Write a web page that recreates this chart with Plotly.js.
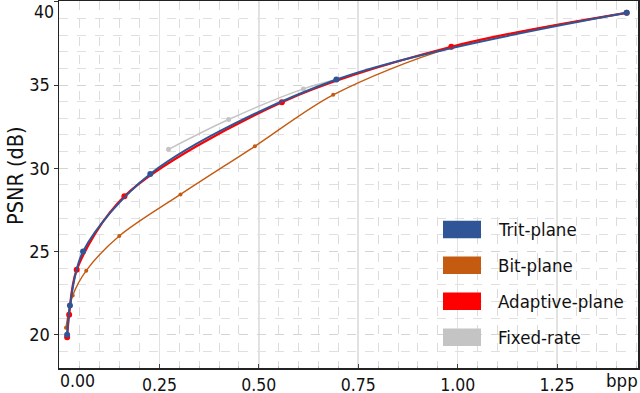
<!DOCTYPE html>
<html>
<head>
<meta charset="utf-8">
<script src="https://cdn.plot.ly/plotly-3.0.1.min.js"></script>
<style>html,body{margin:0;padding:0;background:#fff;}#chart{width:640px;height:393px;}</style>
</head>
<body>
<div id="chart"></div>
<script>
// ---- data ----
const seriesNames = ["Trit-plane", "Bit-plane", "Adaptive-plane", "Fixed-rate"];

const tritBpp  = [0.018, 0.025, 0.058, 0.227, 0.695, 1.425];
const tritPsnr = [20.0, 21.75, 25.0, 29.66, 35.33, 39.34];

const bitBpp  = [0.015, 0.032, 0.066, 0.149, 0.303, 0.49, 0.687, 0.984, 1.425];
const bitPsnr = [20.42, 22.35, 23.85, 25.93, 28.43, 31.32, 34.41, 37.25, 39.34];

const adaptBpp  = [0.018, 0.023, 0.042, 0.162, 0.558, 0.984, 1.425];
const adaptPsnr = [19.85, 21.2, 23.9, 28.32, 33.97, 37.3, 39.34];

const fixedBpp  = [0.273, 0.424, 0.612, 0.695];
const fixedPsnr = [31.14, 32.93, 34.77, 35.33];

const xTickVals = [0, 0.25, 0.5, 0.75, 1.0, 1.25];
const xTickText = ["", "0.25", "0.50", "0.75", "1.00", "1.25"];
const yTickVals = [20, 25, 30, 35, 40];
const yTickText = ["20", "25", "30", "35", ""];

// ---- styles ----
const colors = ["#2F5597", "#C55A11", "#FF0000", "#C4C4C4"];
const FONT = "DejaVu Sans Condensed, Liberation Sans, DejaVu Sans, sans-serif";

const traces = [
  {x: fixedBpp, y: fixedPsnr, name: seriesNames[3], mode: "lines+markers",
   line: {color: colors[3], width: 1.5, shape: "spline", smoothing: 0.9},
   marker: {color: colors[3], size: 5}},
  {x: bitBpp, y: bitPsnr, name: seriesNames[1], mode: "lines+markers",
   line: {color: colors[1], width: 1.4, shape: "spline", smoothing: 0.9},
   marker: {color: colors[1], size: 4}},
  {x: adaptBpp, y: adaptPsnr, name: seriesNames[2], mode: "lines+markers",
   line: {color: colors[2], width: 2.2, shape: "spline", smoothing: 0.9},
   marker: {color: colors[2], size: 6}},
  {x: tritBpp, y: tritPsnr, name: seriesNames[0], mode: "lines+markers",
   line: {color: colors[0], width: 2, shape: "spline", smoothing: 0.9},
   marker: {color: colors[0], size: 6}}
];

// plot area in pixels
const L = 59, R = 638, T = 1, B = 368;
const px = v => (v - L) / (R - L);
const py = v => (B - v) / (B - T);

const shapes = [];
const annotations = [];
const legendRowsY = [229.5, 265.3, 301.3, 337.2];
seriesNames.forEach((name, i) => {
  const cy = legendRowsY[i];
  shapes.push({type: "rect", xref: "paper", yref: "paper",
    x0: px(443), x1: px(481), y0: py(cy + 8.8), y1: py(cy - 8.8),
    fillcolor: colors[i], line: {width: 0}});
  annotations.push({xref: "paper", yref: "paper", x: px(496), y: py(cy),
    xanchor: "left", yanchor: "middle", showarrow: false, text: name,
    font: {family: FONT, size: 18.5, color: "#111"}});
});
annotations.push({xref: "paper", yref: "paper", x: px(56), y: py(0), xanchor: "right", yanchor: "top",
  showarrow: false, text: "40", font: {family: FONT, size: 17.5, color: "#111"}});
annotations.push({xref: "paper", yref: "paper", x: px(77), y: py(381), xanchor: "center", yanchor: "middle",
  showarrow: false, text: "0.00", font: {family: FONT, size: 17.5, color: "#111"}});
annotations.push({xref: "paper", yref: "paper", x: px(622), y: py(380), xanchor: "center", yanchor: "middle",
  showarrow: false, text: "bpp", font: {family: FONT, size: 18.5, color: "#111"}});
annotations.push({xref: "paper", yref: "paper", x: px(15), y: py(176), xanchor: "center", yanchor: "middle",
  textangle: -90, showarrow: false, text: "PSNR (dB)", font: {family: FONT, size: 21.5, color: "#111"}});

const layout = {
  width: 640, height: 393,
  margin: {l: L, r: 640 - R, t: T, b: 393 - B},
  paper_bgcolor: "#fff", plot_bgcolor: "#fff",
  showlegend: false,
  font: {family: FONT, size: 18, color: "#111"},
  xaxis: {
    range: [-0.0025, 1.4535], tickvals: xTickVals, ticktext: xTickText,
    ticks: "inside", ticklen: 4, tickcolor: "#444",
    showline: true, linecolor: "#222", linewidth: 1.5, mirror: true,
    showgrid: true, gridcolor: "#E2E2E2", gridwidth: 1.5,
    zeroline: false, tickfont: {family: FONT, size: 17.5, color: "#111"},
    minor: {dtick: 0.05, showgrid: true, gridcolor: "#DCDCDC", griddash: "dash", gridwidth: 1,
            ticks: "inside", ticklen: 2, tickcolor: "#BBB"}
  },
  yaxis: {
    range: [18.0, 40.05], tickvals: yTickVals, ticktext: yTickText,
    ticks: "outside", ticklen: 4, tickcolor: "#333",
    showline: true, linecolor: "#222", linewidth: 1.5, mirror: true,
    showgrid: true, gridcolor: "#D4D4D4", griddash: "dash", gridwidth: 1,
    zeroline: false, tickfont: {family: FONT, size: 18, color: "#111"},
    minor: {dtick: 1, showgrid: true, gridcolor: "#E0E0E0", griddash: "dash", gridwidth: 1}
  },
  shapes: shapes,
  annotations: annotations
};

Plotly.newPlot("chart", traces, layout, {displayModeBar: false, staticPlot: true});
</script>
</body>
</html>
